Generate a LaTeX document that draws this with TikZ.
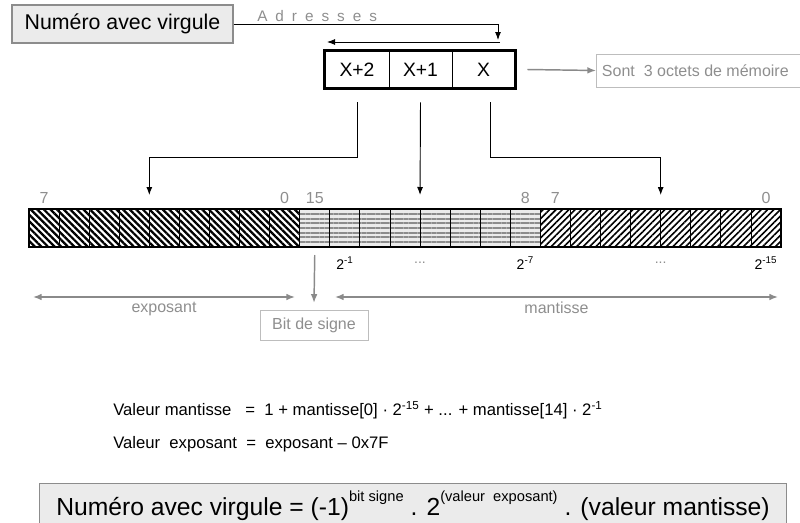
\documentclass[tikz,border=0pt]{standalone}
\usepackage{fontspec}
\setmainfont{Liberation Sans}
\usetikzlibrary{arrows.meta,patterns.meta,positioning,calc}

\definecolor{txtgray}{HTML}{8E8E8E}
\definecolor{lngray}{HTML}{8A8A8A}
\definecolor{boxfill}{HTML}{EBEBEB}
\definecolor{boxline}{HTML}{8C8C8C}
\definecolor{lightline}{HTML}{BDBDBD}

% raised index in the result line
\newcommand\upidx[1]{\raisebox{0.55em}{\fontsize{11}{11}\selectfont #1}}

\begin{document}
\begin{tikzpicture}[
    x=0.75pt, y=-0.75pt,
    titlebox/.style={rectangle, draw=boxline, fill=boxfill, line width=0.8pt,
                     inner sep=0pt, font=\fontsize{16}{18}\selectfont},
    membyte/.style={rectangle, draw, line width=0.6pt, minimum height=27.75pt,
                    inner sep=0pt, text height=10.5pt, text depth=0pt,
                    font=\fontsize{14.5}{16}\selectfont},
    notebox/.style={rectangle, draw=lightline, line width=0.7pt, inner sep=0pt,
                    text=txtgray, font=\fontsize{12}{14}\selectfont},
    bitcell/.style={rectangle, draw, line width=0.6pt, inner sep=0pt, outer sep=0pt,
                    minimum width=22.56pt, minimum height=28.5pt},
    expo/.style={pattern={Lines[angle=-45, distance=3.5pt, line width=1.7pt]}},
    mid/.style={preaction={fill=black!8},
                pattern={Lines[angle=0, distance=3.5pt, line width=1.3pt]}, pattern color=black!45},
    mant/.style={pattern={Lines[angle=45, distance=3.4pt, line width=1.2pt]}},
    bitno/.style={text=txtgray, font=\fontsize{12}{13}\selectfont, inner sep=1pt},
    weight/.style={font=\fontsize{10.5}{12}\selectfont, inner sep=1pt},
    line/.style={draw, line width=0.7pt},
    conn/.style={line, -{Latex[length=6pt, width=4.5pt]}},
    grayarr/.style={draw=lngray, line width=1.1pt, -{Latex[length=6.5pt, width=5pt]}},
    span/.style={draw=lngray, line width=1.1pt, {Latex[length=6.5pt, width=5pt]}-{Latex[length=6.5pt, width=5pt]}},
    formula/.style={anchor=west, inner sep=0pt, font=\fontsize{12.5}{14}\selectfont}
]
    \useasboundingbox (0,0) rectangle (800,522);
    \clip (0,0) rectangle (800,522);

    % header and the three bytes in memory
    \node [titlebox, minimum width=165.75pt, minimum height=28.5pt] (title) at (122.5,24) {Numéro avec virgule};
    \node [membyte, minimum width=48pt]    (c2) at (357,69.5)   {X+2};
    \node [membyte, minimum width=47.25pt] (c1) at (420.5,69.5) {X+1};
    \node [membyte, minimum width=47.25pt] (c0) at (483.5,69.5) {X};
    \draw [line width=2pt] (c2.north west) rectangle (c0.south east);

    \node [notebox, anchor=west, minimum width=155pt, minimum height=24.75pt] (octets) at (596,70.5) {Sont\ \ 3 octets de mémoire\ \ \ };
    \path [grayarr] ([xshift=9pt]c0.east) -- (octets.west);

    % address direction
    \coordinate (adrtop) at (498,40);
    \coordinate (adrR) at (500,42);
    \coordinate (adrL) at (327,42);
    \path [conn] (title.east) -| (adrtop);
    \path [conn] (adrR) -- (adrL);
    \node [text=txtgray, font=\fontsize{11.5}{12}\selectfont\addfontfeatures{LetterSpace=52}, anchor=south west, inner sep=0pt]
        (adr) at (257,22) {Adresses};

    % the 24 bit register
    \foreach \i in {1,...,9}
        \node [bitcell, expo] (b\i) at ({29+(\i-0.5)*30.08},228) {};
    \foreach \i in {10,...,17}
        \node [bitcell, mid] (b\i) at ({29+(\i-0.5)*30.08},228) {};
    \foreach \i in {18,...,25}
        \node [bitcell, mant] (b\i) at ({29+(\i-0.5)*30.08},228) {};
    \draw [line width=2.2pt] (b1.north west) rectangle (b25.south east);

    % bytes to bits
    \path [conn] ([yshift=-10.5pt]c2.south) |- ($(b4.north east)+(0,-52)$) -- ([yshift=10.5pt]b4.north east);
    \path [conn] ([yshift=-10.5pt]c1.south) -- ([yshift=10.5pt]b13.north east);
    \path [conn] ([xshift=4.9pt,yshift=-10.5pt]c0.south) |- ($(b21.north east)+(0,-52)$) -- ([yshift=10.5pt]b21.north east);

    % bit numbers
    \node [bitno] at ([yshift=8.5pt]b1.north)  {7};
    \node [bitno] at ([yshift=8.5pt]b9.north)  {0};
    \node [bitno] at ([yshift=8.5pt]b10.north) {15};
    \node [bitno] at ([yshift=8.5pt]b17.north) {8};
    \node [bitno] at ([yshift=8.5pt]b18.north) {7};
    \node [bitno] at ([yshift=8.5pt]b25.north) {0};

    % weights of the mantissa bits
    \node [weight] at ([yshift=-12pt]b11.south) {2\textsuperscript{-1}};
    \node [weight, text=txtgray] at ([yshift=-12pt]b13.south east) {...};
    \node [weight] at ([yshift=-12pt]b17.south) {2\textsuperscript{-7}};
    \node [weight, text=txtgray] at ([yshift=-12pt]b21.south east) {...};
    \node [weight] at ([yshift=-12pt]b25.south) {2\textsuperscript{-15}};

    % fields
    \node [notebox, minimum width=81pt, minimum height=22.5pt] (sign) at (314,325) {Bit de signe};
    \path [grayarr] ([yshift=-6pt]b10.south) -- ([yshift=5pt]sign.north);

    \coordinate (expL) at (33,297);
    \coordinate (expR) at (295,297);
    \coordinate (manL) at (335,297);
    \coordinate (manR) at (778,297);
    \path [span] (expL) -- node [below=0pt, text=txtgray, font=\fontsize{12}{14}\selectfont] {exposant} (expR);
    \path [span] (manL) -- node [below=0pt, text=txtgray, font=\fontsize{12}{14}\selectfont] {mantisse} (manR);

    % formulas
    \node [formula] (fman) at (113,410)
        {Valeur mantisse\ \ \ =\ \ 1 + mantisse[0] · 2\textsuperscript{-15} + ... + mantisse[14] · 2\textsuperscript{-1}};
    \node [formula] (fexp) at (113,444)
        {Valeur\ \ exposant\ \ =\ \ exposant – 0x7F};

    \node [titlebox, anchor=north west, minimum width=560.25pt, minimum height=33pt,
           font=\fontsize{18.5}{20}\selectfont] (result) at (39,483)
        {Numéro avec virgule = (-1)\upidx{bit signe} . 2\upidx{(valeur\ \ exposant)} . (valeur mantisse)};
\end{tikzpicture}
\end{document}
